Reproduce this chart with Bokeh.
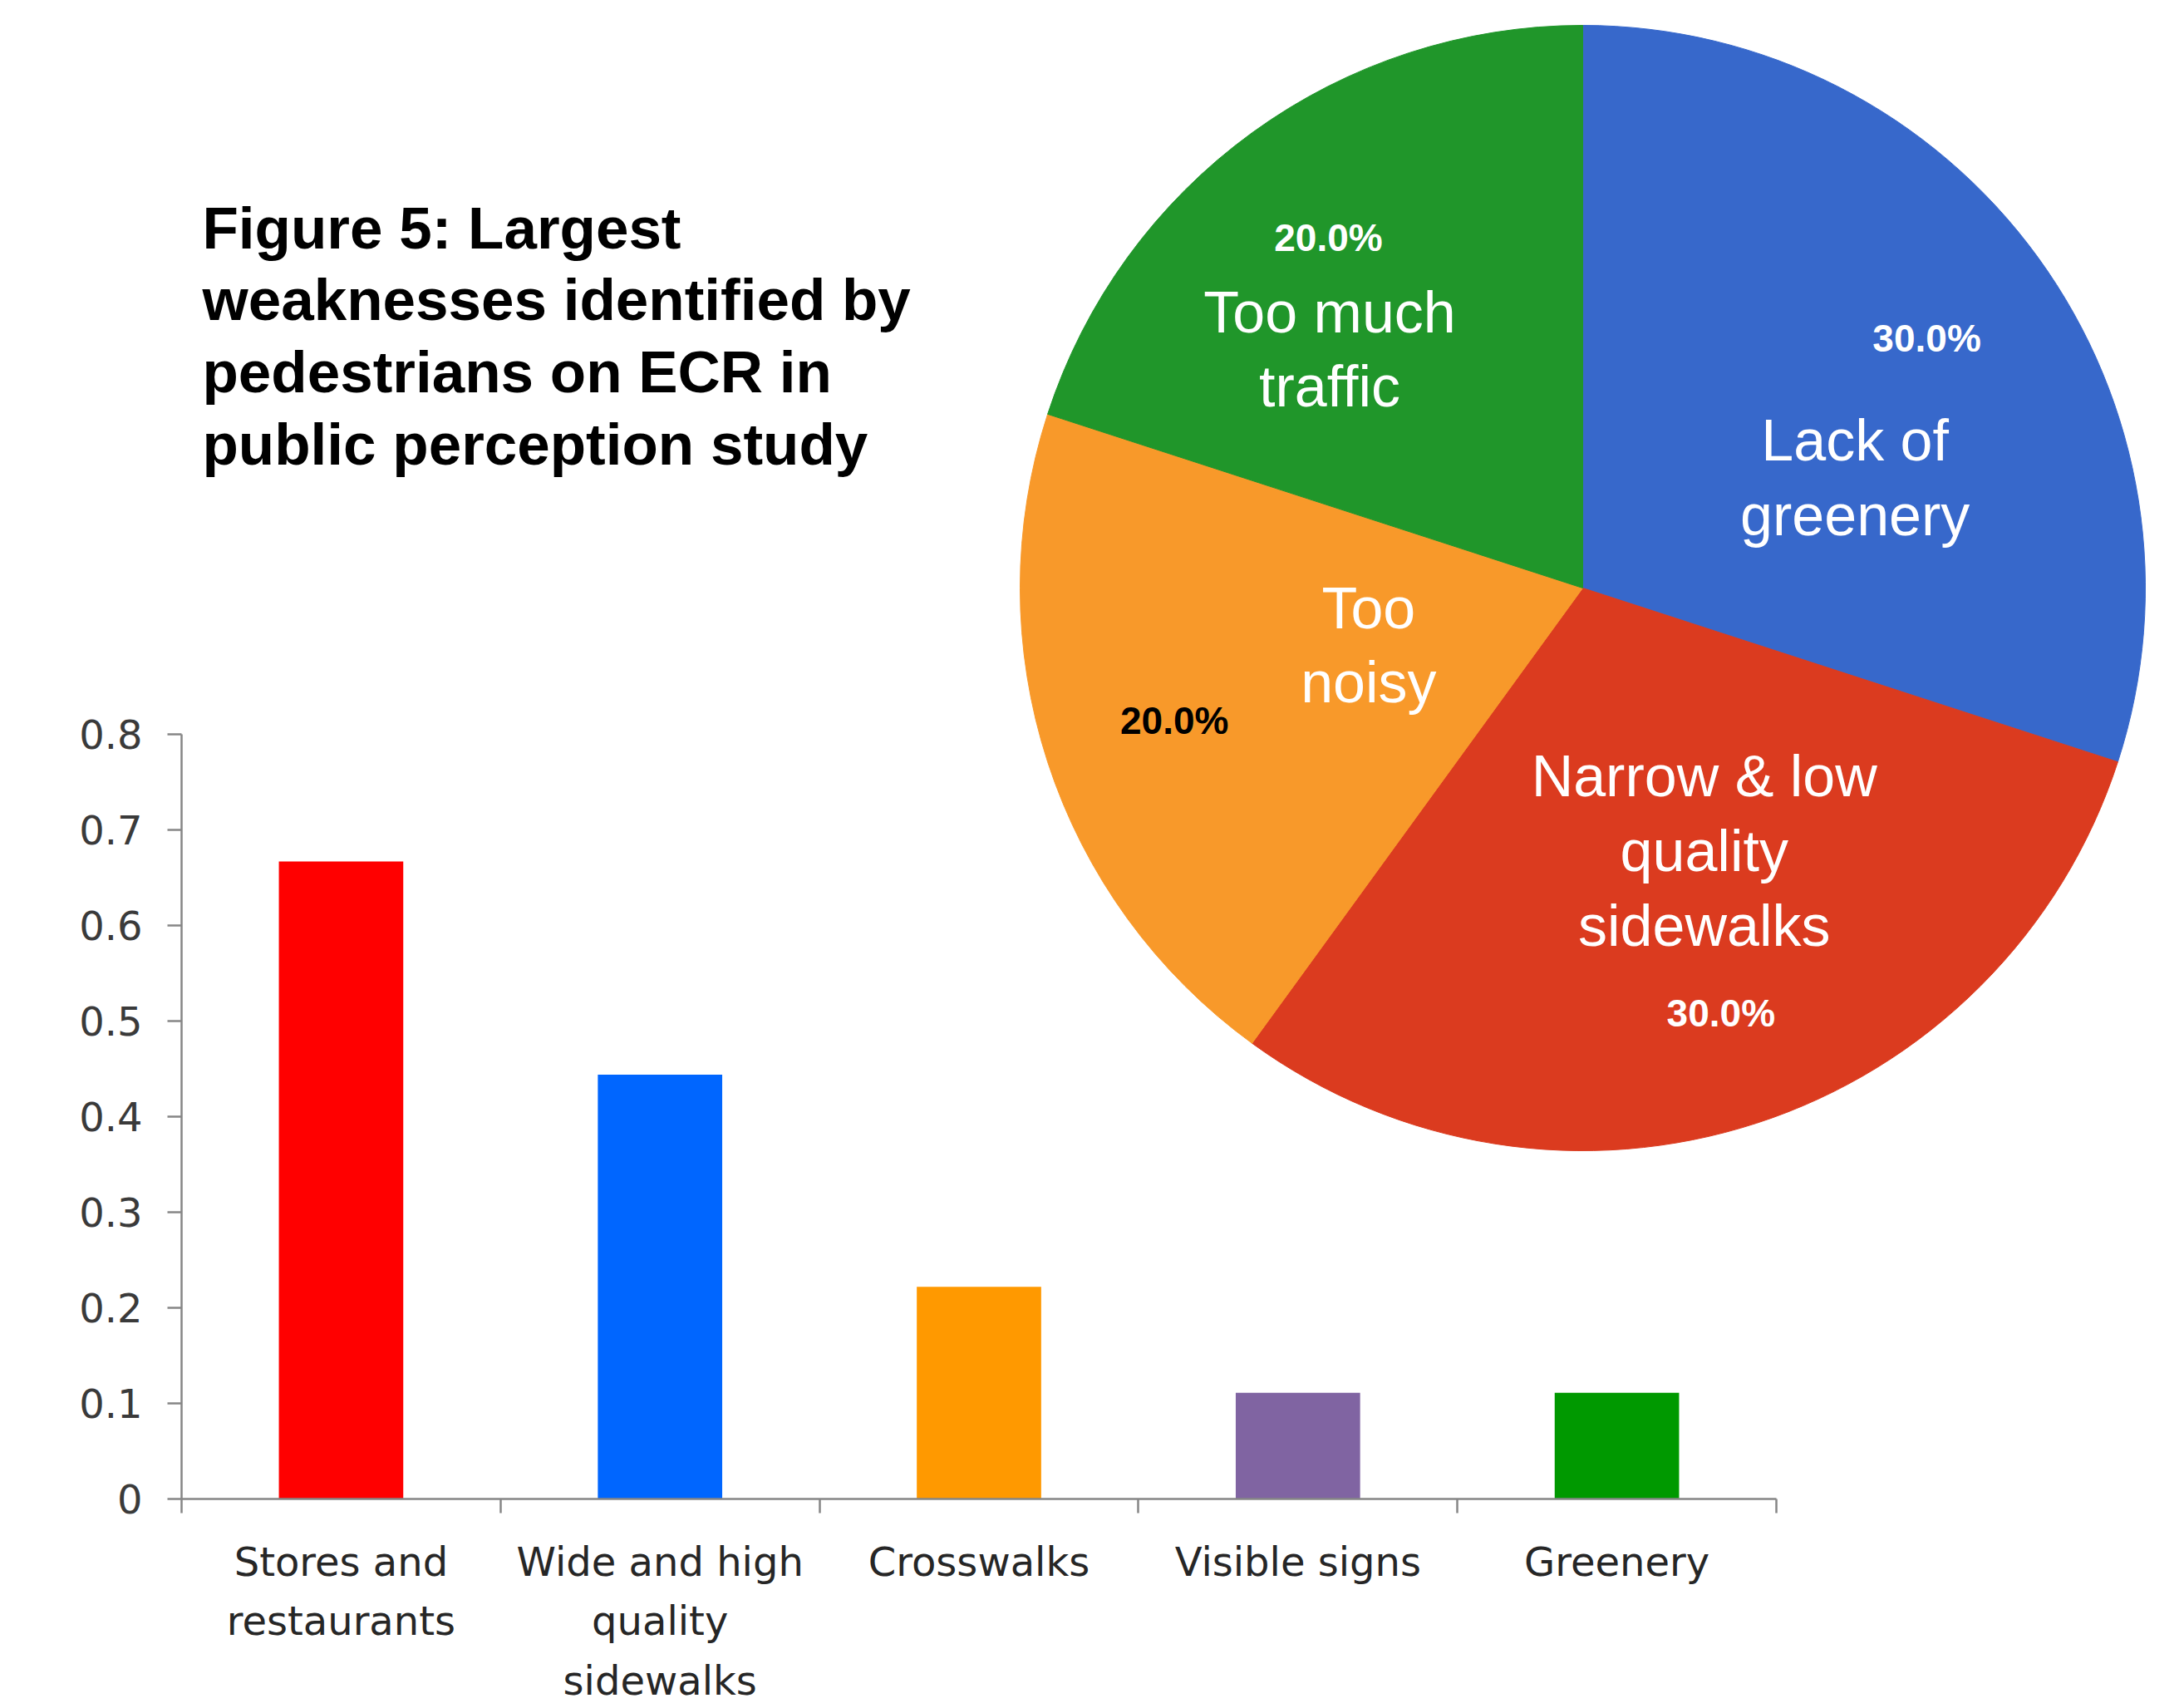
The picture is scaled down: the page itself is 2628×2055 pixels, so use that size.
import math
from bokeh.plotting import figure
from bokeh.models import Range1d, LinearAxis, FixedTicker, Label, ColumnDataSource
from bokeh.core.properties import value
from bokeh.embed import file_html
from bokeh.resources import INLINE

# ---------------- data ----------------
bar_categories = ["Stores and\nrestaurants", "Wide and high\nquality\nsidewalks",
                  "Crosswalks", "Visible signs", "Greenery"]
bar_values = [0.667, 0.444, 0.222, 0.111, 0.111]
bar_colors = ["#FF0000", "#0066FF", "#FF9900", "#8064A2", "#009900"]
y_ticks = [0, 0.1, 0.2, 0.3, 0.4, 0.5, 0.6, 0.7, 0.8]
y_tick_labels = ["0", "0.1", "0.2", "0.3", "0.4", "0.5", "0.6", "0.7", "0.8"]

pie_labels = ["Lack of\ngreenery", "Narrow & low\nquality\nsidewalks", "Too\nnoisy", "Too much\ntraffic"]
pie_values = [30.0, 30.0, 20.0, 20.0]
pie_colors = ["#3768CB", "#DB3B1F", "#F8992A", "#20962A"]
pct_colors = ["white", "white", "black", "white"]

title_text = "Figure 5: Largest\nweaknesses identified by\npedestrians on ECR in\npublic perception study"

# ---------------- layout constants ----------------
W, H = 2628, 2055
BX0, BUNIT = 218, 383.8      # bar axis left (px) and px per category
BY0, BYUNIT = 1803, 1150     # bar baseline (px from top) and px per unit value
PCX, PCY, PR = 1904, 707, 677

p = figure(width=W, height=H, output_backend="svg", toolbar_location=None,
           x_range=Range1d(-BX0 / BUNIT, (W - BX0) / BUNIT),
           y_range=Range1d(-(H - BY0) / BYUNIT, BY0 / BYUNIT),
           x_axis_type=None, y_axis_type=None, min_border=0, title=None)
p.outline_line_color = None
p.background_fill_color = "white"
p.border_fill_color = "white"
p.xgrid.visible = False
p.ygrid.visible = False
p.extra_x_ranges = {"pie": Range1d(-PCX / PR, (W - PCX) / PR), "px": Range1d(0, W)}
p.extra_y_ranges = {"pie": Range1d(-(H - PCY) / PR, PCY / PR), "px": Range1d(H, 0)}

# ---------------- bar chart ----------------
n = len(bar_values)
xs = [i + 0.5 for i in range(n)]
bsrc = ColumnDataSource(dict(x=xs, top=bar_values, color=bar_colors))
p.vbar(x="x", top="top", bottom=0, width=0.39, fill_color="color", line_color=None, source=bsrc)

axis_color = "#868686"
yaxis = LinearAxis(fixed_location=0, bounds=(0, y_ticks[-1]),
                   ticker=FixedTicker(ticks=y_ticks))
yaxis.major_label_overrides = {t: l for t, l in zip(y_ticks, y_tick_labels)}
yaxis.axis_line_color = axis_color
yaxis.axis_line_width = 2.5
yaxis.major_tick_line_color = axis_color
yaxis.major_tick_line_width = 2.5
yaxis.major_tick_out = 17
yaxis.major_tick_in = 0
yaxis.minor_tick_line_color = None
yaxis.major_label_standoff = 30
yaxis.major_label_text_font = "DejaVu Sans"
yaxis.major_label_text_font_size = "48px"
yaxis.major_label_text_color = "#3a3a3a"
p.add_layout(yaxis, "left")

xaxis = LinearAxis(fixed_location=0, bounds=(0, n),
                   ticker=FixedTicker(ticks=xs, minor_ticks=list(range(n + 1))))
xaxis.major_label_overrides = {x: c for x, c in zip(xs, bar_categories)}
xaxis.axis_line_color = axis_color
xaxis.axis_line_width = 2.5
xaxis.major_tick_line_color = None
xaxis.major_tick_out = 0
xaxis.major_tick_in = 0
xaxis.minor_tick_line_color = axis_color
xaxis.minor_tick_line_width = 2.5
xaxis.minor_tick_out = 17
xaxis.minor_tick_in = 0
xaxis.major_label_standoff = 30
xaxis.major_label_text_font = "DejaVu Sans"
xaxis.major_label_text_font_size = "48px"
xaxis.major_label_text_line_height = 1.28
xaxis.major_label_text_color = "#262626"
p.add_layout(xaxis, "below")

# ---------------- pie chart ----------------
total = sum(pie_values)
starts, ends, mids = [], [], []
cum = 0.0
for v in pie_values:
    a0 = cum / total * 2 * math.pi
    a1 = (cum + v) / total * 2 * math.pi
    starts.append(math.pi / 2 - a1)
    ends.append(math.pi / 2 - a0)
    mids.append(math.pi / 2 - (a0 + a1) / 2)
    cum += v

psrc = ColumnDataSource(dict(start=starts, end=ends, color=pie_colors))
p.wedge(x=0, y=0, radius=1, start_angle="start", end_angle="end", fill_color="color",
        line_color="color", line_width=1, source=psrc, x_range_name="pie", y_range_name="pie")

# percentage labels along each slice's mid angle (radius fraction per slice)
pct_r = [0.756, 0.795, 0.763, 0.769]
pct_text = ["%.1f%%" % (v / total * 100) for v in pie_values]
tsrc = ColumnDataSource(dict(x=[r * math.cos(m) for r, m in zip(pct_r, mids)],
                             y=[r * math.sin(m) for r, m in zip(pct_r, mids)],
                             t=pct_text, c=pct_colors))
p.text(x="x", y="y", text="t", text_color="c", text_align="center", text_baseline="middle",
       text_font=value("Liberation Sans"), text_font_size="46px", text_font_style="bold",
       source=tsrc, x_range_name="pie", y_range_name="pie")

# category-label placement inside each slice (radius fraction, angle offset in degrees)
lab_r = [0.522, 0.515, 0.394, 0.618]
lab_off = [-14.0, 6.8, -3.0, 10.7]
lx = [r * math.cos(m + math.radians(o)) for r, m, o in zip(lab_r, mids, lab_off)]
ly = [r * math.sin(m + math.radians(o)) for r, m, o in zip(lab_r, mids, lab_off)]
lsrc = ColumnDataSource(dict(x=lx, y=ly, t=pie_labels))
p.text(x="x", y="y", text="t", text_color="white", text_align="center", text_baseline="middle",
       text_font=value("Liberation Sans"), text_font_size="70px", text_line_height=1.15,
       source=lsrc, x_range_name="pie", y_range_name="pie")

# ---------------- title ----------------
title = Label(x=243, y=234, text=title_text, x_range_name="px", y_range_name="px",
              text_font="Liberation Sans", text_font_style="bold", text_font_size="71px",
              text_line_height=1.10, text_baseline="top", text_align="left", text_color="black")
p.add_layout(title)

open("out.html", "w").write(file_html(p, INLINE))
